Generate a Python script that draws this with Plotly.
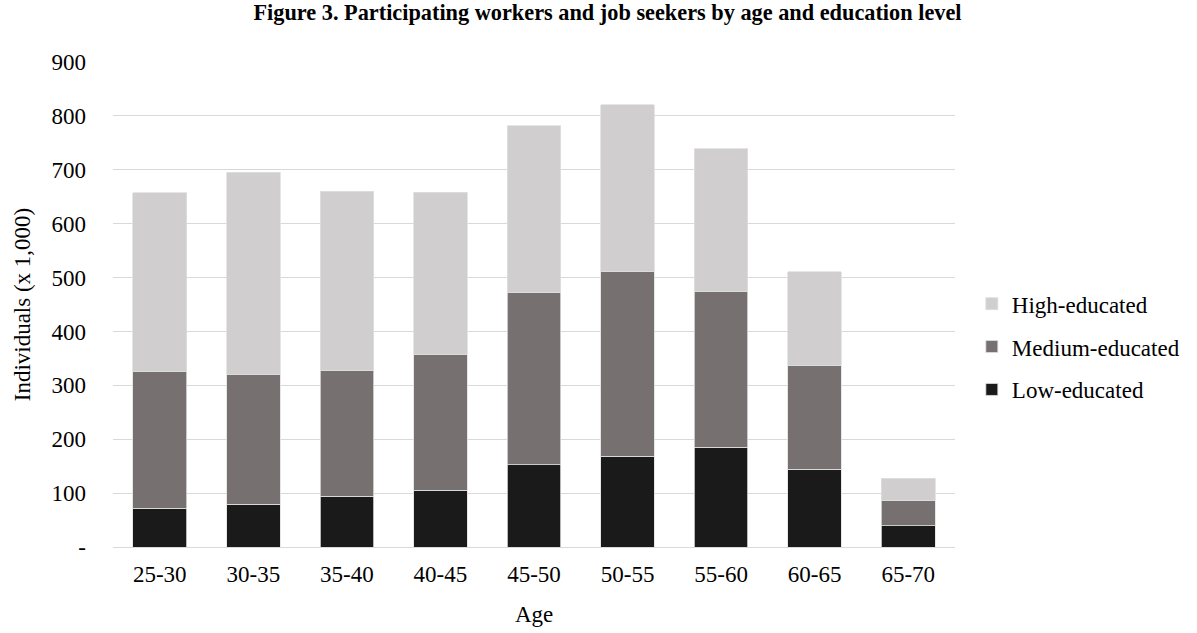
import plotly.graph_objects as go

ages = ["25-30", "30-35", "35-40", "40-45", "45-50", "50-55", "55-60", "60-65", "65-70"]
low = [72, 79, 94, 105, 153, 168, 185, 144, 39]
medium = [254, 242, 233, 253, 319, 344, 290, 192, 48]
high = [331, 374, 333, 300, 310, 309, 264, 175, 41]
ytick_vals = [0, 100, 200, 300, 400, 500, 600, 700, 800, 900]
ytick_text = ["-", "100", "200", "300", "400", "500", "600", "700", "800", "900"]

FONT = "Liberation Serif, Times New Roman, serif"
FS = 23
line = dict(color="#E0E0E0", width=0.8)

fig = go.Figure()
fig.add_trace(go.Bar(x=ages, y=low, name="Low-educated", marker=dict(color="#1A1A1A", line=line),
                     legendgroup="l", legendrank=3))
fig.add_trace(go.Bar(x=ages, y=medium, name="Medium-educated", marker=dict(color="#767170", line=line),
                     legendgroup="m", legendrank=2))
fig.add_trace(go.Bar(x=ages, y=high, name="High-educated", marker=dict(color="#D0CECF", line=line),
                     legendgroup="h", legendrank=1))

fig.update_layout(
    barmode="stack",
    bargap=0.427,
    width=1197, height=633,
    margin=dict(l=113, r=242, t=62, b=86),
    paper_bgcolor="white", plot_bgcolor="white",
    font=dict(family=FONT, size=FS, color="#000000"),
    title=dict(text="<b>Figure 3. Participating workers and job seekers by age and education level</b>",
               x=0.5075, xanchor="center", y=0.993, yanchor="top",
               font=dict(family=FONT, size=22.3, color="#000000")),
    legend=dict(x=1.02, xanchor="left", y=0.413, yanchor="middle",
                traceorder="grouped", tracegroupgap=10,
                font=dict(family=FONT, size=FS), itemwidth=30),
    xaxis=dict(showgrid=False, showline=False, ticks="", ticklabelstandoff=11,
               tickfont=dict(family=FONT, size=FS)),
    yaxis=dict(title=dict(text="Individuals (x 1,000)", font=dict(family=FONT, size=FS), standoff=14),
               range=[0, 900], tickvals=ytick_vals, ticktext=ytick_text,
               showgrid=True, gridcolor="#D9D9D9", gridwidth=1.3,
               zeroline=True, zerolinecolor="#D9D9D9", zerolinewidth=1.3,
               showline=False, ticks="", ticklabelstandoff=26,
               tickfont=dict(family=FONT, size=FS)),
    annotations=[dict(text="Age", xref="paper", yref="paper", x=0.5, y=-0.139,
                      xanchor="center", yanchor="middle", showarrow=False,
                      font=dict(family=FONT, size=FS, color="#000000"))],
)

fig.write_html("out.html")
